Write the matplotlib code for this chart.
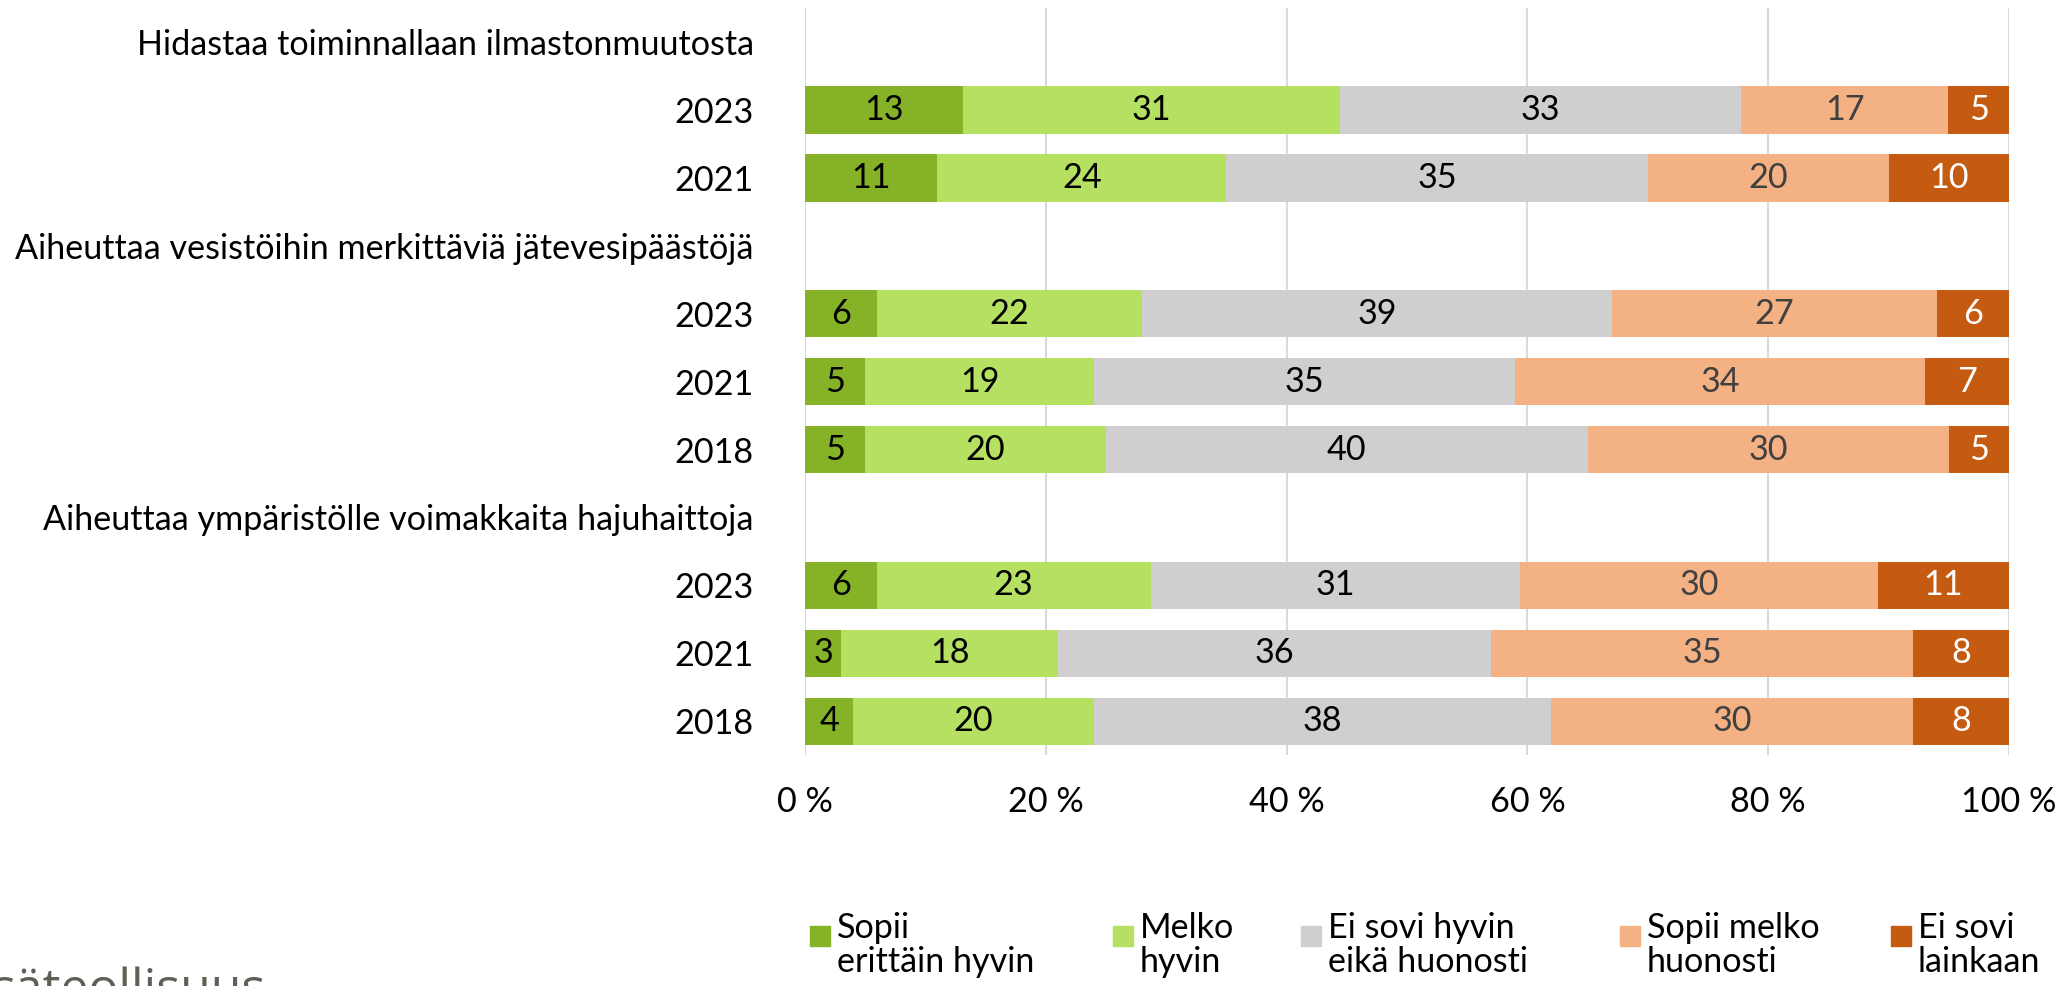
import matplotlib.pyplot as plt
from matplotlib.patches import Rectangle
import numpy as np

plt.rcParams['font.family'] = ['Lato', 'DejaVu Sans']

# row labels, top to bottom (group headers have no bar)
row_labels = ['Hidastaa toiminnallaan ilmastonmuutosta', '2023', '2021',
              'Aiheuttaa vesistöihin merkittäviä jätevesipäästöjä', '2023', '2021', '2018',
              'Aiheuttaa ympäristölle voimakkaita hajuhaittoja', '2023', '2021', '2018']

categories = ['Sopii\nerittäin hyvin', 'Melko\nhyvin', 'Ei sovi hyvin\neikä huonosti',
              'Sopii melko\nhuonosti', 'Ei sovi\nlainkaan']

# values per category for each row (None = header row)
sopii_erittain = [None, 13, 11, None, 6, 5, 5, None, 6, 3, 4]
melko_hyvin    = [None, 31, 24, None, 22, 19, 20, None, 23, 18, 20]
ei_sovi_eika   = [None, 33, 35, None, 39, 35, 40, None, 31, 36, 38]
sopii_huonosti = [None, 17, 20, None, 27, 34, 30, None, 30, 35, 30]
ei_lainkaan    = [None, 5, 10, None, 6, 7, 5, None, 11, 8, 8]

colors = ['#86B228', '#B5E062', '#D0CECF', '#F4B183', '#C55A11']
text_colors = ['black', 'black', 'black', '#404040', 'white']

series = [sopii_erittain, melko_hyvin, ei_sovi_eika, sopii_huonosti, ei_lainkaan]

FS = 24.6

fig = plt.figure(figsize=(20.59, 9.86), dpi=100)
ax = fig.add_axes([0.391, 0.234, 0.5847, 0.758])

y = np.arange(len(row_labels))
bar_rows = [i for i in y if series[0][i] is not None]
vals = np.array([[s[i] for s in series] for i in bar_rows], dtype=float)
totals = vals.sum(axis=1)
left = np.zeros(len(bar_rows))
for k in range(len(series)):
    share = vals[:, k] / totals * 100
    ax.barh(bar_rows, share, left=left, height=0.7, color=colors[k], zorder=3)
    for r, l, w, v in zip(bar_rows, left, share, vals[:, k]):
        ax.text(l + w / 2, r, f'{int(v)}', ha='center', va='center',
                fontsize=FS, color=text_colors[k], zorder=4)
    left += share

ax.set_xlim(0, 100)
ax.set_ylim(len(row_labels) - 0.5, -0.5)
ax.set_yticks(y)
ax.set_yticklabels(row_labels, fontsize=FS)
ax.set_xticks(np.arange(0, 101, 20))
ax.set_xticklabels([f'{v} %' for v in range(0, 101, 20)], fontsize=FS)
ax.tick_params(axis='both', length=0)
ax.tick_params(axis='y', pad=37)
ax.tick_params(axis='x', pad=22)
ax.grid(axis='x', color='#D9D9D9', linewidth=1.5, zorder=0)
for s in ax.spines.values():
    s.set_visible(False)

# legend drawn by hand to follow the original spacing
W, H = 2059, 986
leg_x = [810, 1113, 1301, 1620, 1891]
for xs, c, lab in zip(leg_x, colors, categories):
    fig.add_artist(Rectangle((xs / W, 1 - 946 / H), 20 / W, 20 / H, color=c,
                             transform=fig.transFigure))
    fig.text((xs + 27) / W, 1 - 912 / H, lab, ha='left', va='top', fontsize=FS,
             linespacing=1.08)

# cropped logo text in the corner
fig.text(-0.004, -0.018, 'säteollisuus', ha='left', va='baseline', fontsize=36,
         color='#5F5F55', family=['Open Sans', 'DejaVu Sans'])

plt.savefig('out.png', dpi=100)
